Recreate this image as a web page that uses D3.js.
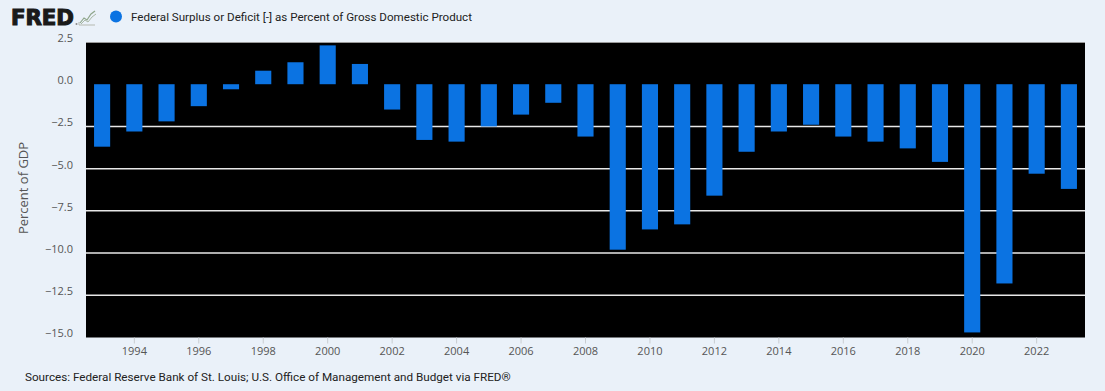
<!DOCTYPE html>
<html>
<head>
<meta charset="utf-8">
<script src="https://cdn.jsdelivr.net/npm/d3@7"></script>
<style>
  html, body { margin: 0; padding: 0; background: #EAF1F9; }
  svg { display: block; }
</style>
</head>
<body>
<svg id="chart" width="1105" height="391"></svg>
<script>
const years = [1993,1994,1995,1996,1997,1998,1999,2000,2001,2002,2003,2004,2005,2006,2007,2008,2009,2010,2011,2012,2013,2014,2015,2016,2017,2018,2019,2020,2021,2022,2023];
const values = [-3.7,-2.8,-2.2,-1.3,-0.3,0.8,1.3,2.3,1.2,-1.5,-3.3,-3.4,-2.5,-1.8,-1.1,-3.1,-9.8,-8.6,-8.3,-6.6,-4.0,-2.8,-2.4,-3.1,-3.4,-3.8,-4.6,-14.7,-11.8,-5.3,-6.2];
const yTicks = [2.5,0.0,-2.5,-5.0,-7.5,-10.0,-12.5,-15.0];
const gridValues = [-2.5,-5.0,-7.5,-10.0,-12.5];
const xTickYears = [1994,1996,1998,2000,2002,2004,2006,2008,2010,2012,2014,2016,2018,2020,2022];
const seriesTitle = "Federal Surplus or Deficit [-] as Percent of Gross Domestic Product";
const yTitle = "Percent of GDP";
const sourceText = "Sources: Federal Reserve Bank of St. Louis; U.S. Office of Management and Budget via FRED®";

const svg = d3.select("#chart");
const W = 1105, H = 391;
svg.append("rect").attr("width", W).attr("height", H).attr("fill", "#EAF1F9");

const plot = {left: 86, right: 1085, top: 42, bottom: 337.5};
const x = d3.scaleBand().domain(years).range([plot.left, plot.right]).paddingInner(0.5).paddingOuter(0.25);
const y = d3.scaleLinear().domain([-15, 2.5]).range([plot.bottom, plot.top]);

// plot background
svg.append("rect")
  .attr("x", plot.left).attr("y", plot.top)
  .attr("width", plot.right - plot.left).attr("height", plot.bottom - plot.top)
  .attr("fill", "#000");
svg.append("line")
  .attr("x1", plot.left).attr("x2", plot.right)
  .attr("y1", plot.top + 0.5).attr("y2", plot.top + 0.5)
  .attr("stroke", "#9a9a9a").attr("stroke-width", 1);

// gridlines
svg.append("g").selectAll("line").data(gridValues).join("line")
  .attr("x1", plot.left).attr("x2", plot.right)
  .attr("y1", d => y(d)).attr("y2", d => y(d))
  .attr("stroke", "#e8e8e8").attr("stroke-width", 1.5);

// bars
svg.append("g").selectAll("rect").data(years).join("rect")
  .attr("x", d => x(d))
  .attr("width", x.bandwidth())
  .attr("y", (d, i) => y(Math.max(0, values[i])))
  .attr("height", (d, i) => Math.abs(y(values[i]) - y(0)))
  .attr("fill", "#0B73E2");

// y axis
const yAxis = d3.axisLeft(y).tickValues(yTicks).tickFormat(d3.format(".1f")).tickSize(0).tickPadding(13);
const yg = svg.append("g").attr("transform", `translate(${plot.left},0)`).call(yAxis);
yg.select(".domain").remove();
yg.selectAll("text")
  .attr("dy", "-0.05em")
  .attr("fill", "#555")
  .style("font-family", "'Open Sans', sans-serif")
  .style("font-size", "11px");

// x axis
const xAxis = d3.axisBottom(x).tickValues(xTickYears).tickSize(6).tickPadding(4);
const xg = svg.append("g").attr("transform", `translate(0,${plot.bottom})`).call(xAxis);
xg.select(".domain").remove();
xg.selectAll("line").attr("stroke", "#c8ccd0");
xg.selectAll("text")
  .attr("fill", "#555")
  .style("font-family", "'Open Sans', sans-serif")
  .style("font-size", "11px");

// y title
svg.append("text")
  .attr("transform", "translate(28,188) rotate(-90)")
  .attr("text-anchor", "middle")
  .attr("fill", "#555")
  .style("font-family", "'Open Sans', sans-serif")
  .style("font-size", "13px")
  .text(yTitle);

// header: FRED logo
svg.append("text")
  .attr("x", 11).attr("y", 25)
  .attr("textLength", 63).attr("lengthAdjust", "spacingAndGlyphs")
  .attr("fill", "#1a1a1a")
  .attr("stroke", "#1a1a1a").attr("stroke-width", 1.1)
  .style("font-family", "'DejaVu Sans', sans-serif")
  .style("font-weight", "bold")
  .style("font-size", "21px")
  .text("FRED");
svg.append("circle").attr("cx", 76.5).attr("cy", 24).attr("r", 1).attr("fill", "#888");
// small chart icon
const icon = svg.append("g").attr("transform", "translate(79,9)");
icon.append("path").attr("d", "M0,16 L16,16 M0,16 L0,13").attr("stroke", "#b5b9b0").attr("fill", "none").attr("stroke-width", 1);
icon.append("path").attr("d", "M1,14 L5,9 L8,11 L12,5 L16,2").attr("stroke", "#8fa68c").attr("fill", "none").attr("stroke-width", 1.2);
icon.append("path").attr("d", "M2,15 L6,11 L9,13 L13,8 L17,5").attr("stroke", "#a9b8a6").attr("fill", "none").attr("stroke-width", 1);

// legend
svg.append("circle").attr("cx", 116).attr("cy", 16.5).attr("r", 6).attr("fill", "#0B73E2");
svg.append("text")
  .attr("x", 131).attr("y", 20.5)
  .attr("fill", "#222")
  .style("font-family", "Roboto, sans-serif")
  .style("font-size", "11.6px")
  .text(seriesTitle);

// source
svg.append("text")
  .attr("x", 25).attr("y", 381)
  .attr("fill", "#222")
  .style("font-family", "Roboto, sans-serif")
  .style("font-size", "11.7px")
  .text(sourceText);
</script>
</body>
</html>
